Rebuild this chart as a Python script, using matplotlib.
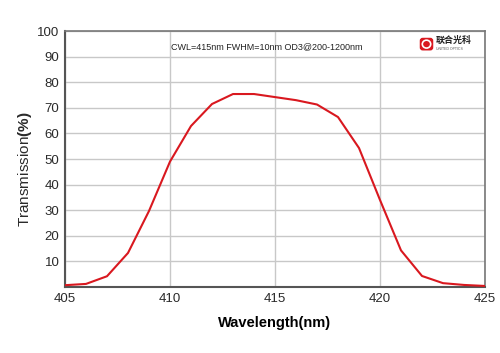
import matplotlib
matplotlib.use("Agg")
import matplotlib.pyplot as plt
from matplotlib.patches import FancyBboxPatch, Circle

wavelength = [405, 406, 407, 408, 409, 410, 411, 412, 413, 414, 415,
              416, 417, 418, 419, 420, 421, 422, 423, 424, 425]
transmission = [0.7, 1.2, 4.2, 13.3, 29.7, 49.0, 62.9, 71.5, 75.4, 75.4, 74.2,
                73.0, 71.3, 66.4, 54.3, 34.0, 14.3, 4.3, 1.5, 0.8, 0.4]
xticks = [405, 410, 415, 420, 425]
yticks = [10, 20, 30, 40, 50, 60, 70, 80, 90, 100]
annotation = "CWL=415nm FWHM=10nm OD3@200-1200nm"

plt.rcParams['font.family'] = ['Liberation Sans', 'Noto Sans CJK SC', 'DejaVu Sans']
plt.rcParams['mathtext.fontset'] = 'custom'
plt.rcParams['mathtext.rm'] = 'Liberation Sans'
plt.rcParams['mathtext.bf'] = 'Liberation Sans:bold'

fig = plt.figure(figsize=(5, 3.53), dpi=100)
ax = fig.add_axes([0.13, 0.187, 0.84, 0.725])

ax.plot(wavelength, transmission, color='#d9181f', lw=1.5, zorder=3)
ax.set_xlim(405, 425)
ax.set_ylim(0, 100)
ax.set_xticks(xticks)
ax.set_yticks(yticks)
ax.grid(True, color='#c8c8c8', lw=1)
ax.tick_params(length=0, labelsize=9.5, colors='#2a2a2a', pad=4)
for s in ['left', 'bottom']:
    ax.spines[s].set_color('#555555')
    ax.spines[s].set_linewidth(1.5)
for s in ['top', 'right']:
    ax.spines[s].set_color('#777777')
    ax.spines[s].set_linewidth(1.2)

ax.set_xlabel("Wavelength(nm)", fontsize=10.5, fontweight='bold', labelpad=8)
ax.set_ylabel(r"Transmission$\mathbf{(\%)}$", fontsize=11, color='#2a2a2a')
ax.yaxis.set_label_coords(-0.074, 0.46)

fig.text(0.342, 0.869, annotation, fontsize=6.5, va='center', ha='left', color='#222222')

# logo
logo_ax = fig.add_axes([0.838, 0.855, 0.03, 0.04])
logo_ax.set_axis_off()
logo_ax.add_patch(FancyBboxPatch((0.05, 0.05), 0.9, 0.9, boxstyle="round,pad=0,rounding_size=0.2",
                                 fc='#d9181f', ec='none', transform=logo_ax.transAxes))
logo_ax.add_patch(Circle((0.5, 0.5), 0.28, fc='none', ec='white', lw=1.2, transform=logo_ax.transAxes))
fig.text(0.872, 0.885, "联合光科", fontsize=6.5, fontweight='bold', color='#222222',
         va='center', ha='left', family=['Noto Sans CJK SC', 'DejaVu Sans'])
fig.text(0.872, 0.86, "UNITED OPTICS", fontsize=2.5, color='#555555', va='center', ha='left')

fig.savefig("out.png", dpi=100)
